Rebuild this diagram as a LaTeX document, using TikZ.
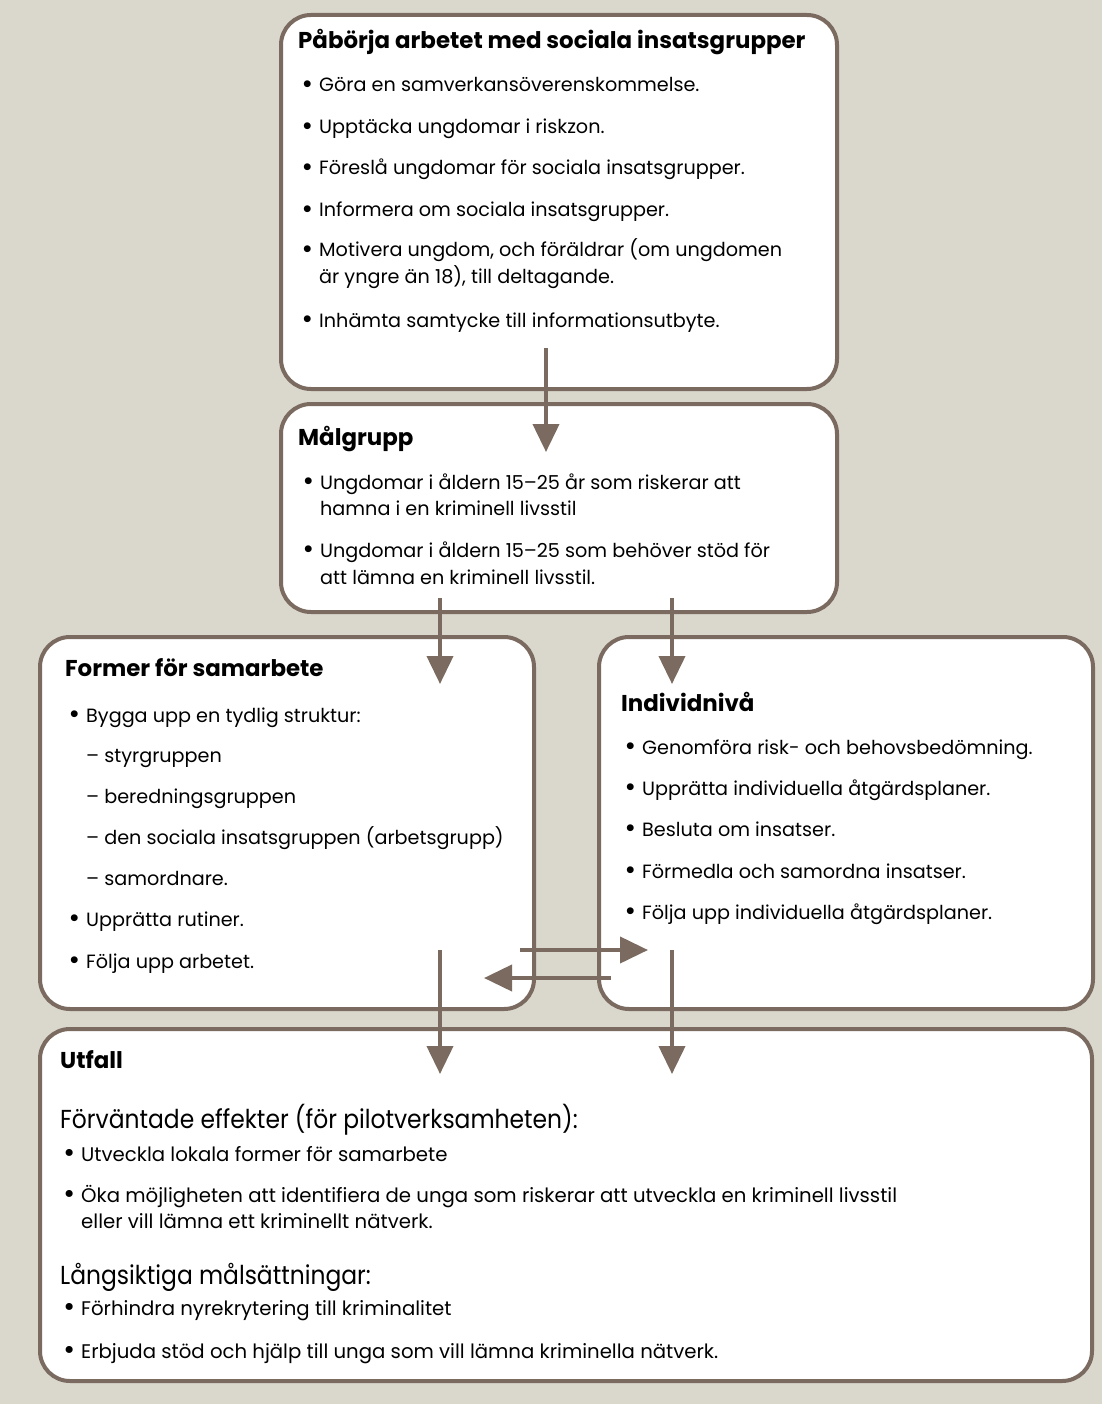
\documentclass[tikz,border=0pt]{standalone}
\usepackage{fontspec}
\setmainfont{Poppins}
\newfontfamily\condfont[FakeStretch=0.9]{Poppins}
\usetikzlibrary{arrows.meta}
\definecolor{bg}{HTML}{DAD7CC}
\definecolor{brn}{HTML}{7A6A5F}
\newcommand\bl{\makebox[0pt][r]{\raisebox{-0.08em}{\scalebox{1.45}{\textbullet}}\hspace{6pt}}}
\tikzset{
  box/.style={draw=brn, line width=4pt, fill=white, rounded corners=30pt, inner sep=0pt, anchor=north west},
  txt/.style={anchor=base west, inner sep=0pt, font=\fontsize{19.2}{23}\selectfont},
  ttl/.style={anchor=base west, inner sep=0pt, font=\fontsize{22.9}{27}\selectfont\bfseries},
  sub/.style={anchor=base west, inner sep=0pt, font=\condfont\fontsize{26}{30}\selectfont},
  ut/.style={anchor=base west, inner sep=0pt, font=\fontsize{19.7}{24}\selectfont},
  arr/.style={draw=brn, line width=4pt, -{Triangle[width=26pt,length=28pt]}},
}
\begin{document}
\begin{tikzpicture}[x=1pt,y=-1pt]
\useasboundingbox (0,0) rectangle (1102,1404);
\fill[bg] (0,0) rectangle (1102,1404);
% boxes
\node[box, minimum width=556pt, minimum height=374pt] (start) at (279,13) {};
\node[box, minimum width=556pt, minimum height=208pt] (malgrupp) at (279,402) {};
\node[box, minimum width=494pt, minimum height=372pt] (former) at (38,635) {};
\node[box, minimum width=494pt, minimum height=372pt] (individ) at (597,635) {};
\node[box, minimum width=1052pt, minimum height=352pt] (utfall) at (38,1027) {};
% top box text
\node[ttl] (t0) at (298,49) {Påbörja arbetet med sociala insatsgrupper};
\node[txt] (t1) at (319,92) {\bl Göra en samverkansöverenskommelse.};
\node[txt] (t2) at (319,134) {\bl Upptäcka ungdomar i riskzon.};
\node[txt] (t3) at (319,175) {\bl Föreslå ungdomar för sociala insatsgrupper.};
\node[txt] (t4) at (319,217) {\bl Informera om sociala insatsgrupper.};
\node[txt] (t5) at (319,257) {\bl Motivera ungdom, och föräldrar (om ungdomen};
\node[txt] (t6) at (319,284) {är yngre än 18), till deltagande.};
\node[txt] (t7) at (319,327) {\bl Inhämta samtycke till informationsutbyte.};
% malgrupp
\node[ttl] (m0) at (298,445) {Målgrupp};
\node[txt] (m1) at (320,489) {\bl Ungdomar i åldern 15–25 år som riskerar att};
\node[txt] (m2) at (320,515) {hamna i en kriminell livsstil};
\node[txt] (m3) at (320,557) {\bl Ungdomar i åldern 15–25 som behöver stöd för};
\node[txt] (m4) at (320,584) {att lämna en kriminell livsstil.};
% former
\node[ttl] (f0) at (65,676) {Former för samarbete};
\node[txt] (f1) at (86,722) {\bl Bygga upp en tydlig struktur:};
\node[txt] (f2) at (86,762) {– styrgruppen};
\node[txt] (f3) at (86,803) {– beredningsgruppen};
\node[txt] (f4) at (86,844) {– den sociala insatsgruppen (arbetsgrupp)};
\node[txt] (f5) at (86,885) {– samordnare.};
\node[txt] (f6) at (86,926) {\bl Upprätta rutiner.};
\node[txt] (f7) at (86,968) {\bl Följa upp arbetet.};
% individ
\node[ttl] (i0) at (621,711) {Individnivå};
\node[txt] (i1) at (642,754) {\bl Genomföra risk- och behovsbedömning.};
\node[txt] (i2) at (642,795) {\bl Upprätta individuella åtgärdsplaner.};
\node[txt] (i3) at (642,836) {\bl Besluta om insatser.};
\node[txt] (i4) at (642,878) {\bl Förmedla och samordna insatser.};
\node[txt] (i5) at (642,919) {\bl Följa upp individuella åtgärdsplaner.};
% utfall
\node[ttl] (u0) at (60,1068) {Utfall};
\node[sub] (u1) at (60,1128) {Förväntade effekter (för pilotverksamheten):};
\node[ut] (u2) at (81,1161) {\bl Utveckla lokala former för samarbete};
\node[ut] (u3) at (81,1202) {\bl Öka möjligheten att identifiera de unga som riskerar att utveckla en kriminell livsstil};
\node[ut] (u4) at (81,1228) {eller vill lämna ett kriminellt nätverk.};
\node[sub] (u5) at (60,1284) {Långsiktiga målsättningar:};
\node[ut] (u6) at (81,1315) {\bl Förhindra nyrekrytering till kriminalitet};
\node[ut] (u7) at (81,1358) {\bl Erbjuda stöd och hjälp till unga som vill lämna kriminella nätverk.};
% arrow endpoints
\coordinate (a1s) at (546,348); \coordinate (a1e) at (546,452);
\coordinate (a2s) at (440,598); \coordinate (a2e) at (440,684);
\coordinate (a3s) at (672,598); \coordinate (a3e) at (672,684);
\coordinate (a4s) at (520,950); \coordinate (a4e) at (648,950);
\coordinate (a5s) at (611,978); \coordinate (a5e) at (484,978);
\coordinate (a6s) at (440,950); \coordinate (a6e) at (440,1074);
\coordinate (a7s) at (672,950); \coordinate (a7e) at (672,1074);
\draw[arr] (a1s) -- (a1e);
\draw[arr] (a2s) -- (a2e);
\draw[arr] (a3s) -- (a3e);
\draw[arr] (a4s) -- (a4e);
\draw[arr] (a5s) -- (a5e);
\draw[arr] (a6s) -- (a6e);
\draw[arr] (a7s) -- (a7e);
\end{tikzpicture}
\end{document}
